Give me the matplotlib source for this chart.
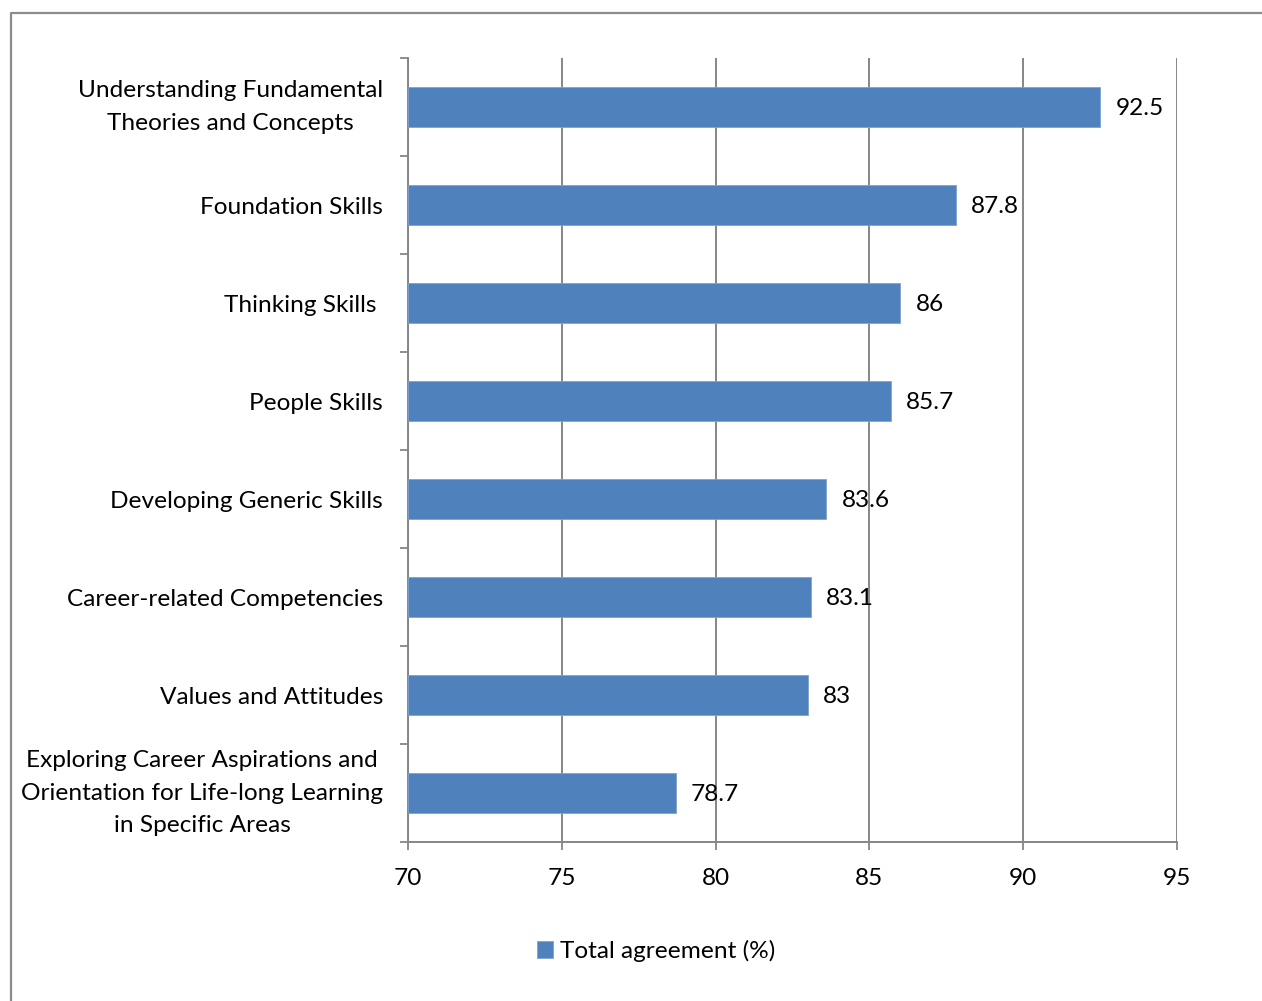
import numpy as np
import matplotlib.pyplot as plt
from matplotlib.lines import Line2D

plt.rcParams['font.family'] = ['Lato', 'DejaVu Sans']

categories = [
    "Understanding Fundamental\nTheories and Concepts",
    "Foundation Skills",
    "Thinking Skills ",
    "People Skills",
    "Developing Generic Skills",
    "Career-related Competencies",
    "Values and Attitudes",
    "Exploring Career Aspirations and\nOrientation for Life-long Learning\nin Specific Areas",
]
values = [92.5, 87.8, 86, 85.7, 83.6, 83.1, 83, 78.7]
value_labels = ["92.5", "87.8", "86", "85.7", "83.6", "83.1", "83", "78.7"]
xticks = [70, 75, 80, 85, 90, 95]
series_name = "Total agreement (%)"

W, H = 1262, 1001
fig = plt.figure(figsize=(W / 100, H / 100), dpi=100)
ax = fig.add_axes([408 / W, 1 - 842 / H, (1177 - 408) / W, (842 - 58) / H])

grid_col = "#868686"
bar_col = "#4F81BD"
fs = 17.6

y = np.arange(len(categories))
bars = ax.barh(y, [v - 70 for v in values], left=70, height=0.4, color=bar_col,
               edgecolor="#7fa3d0", linewidth=0.6, zorder=3, label=series_name)

for yi, v, lab in zip(y, values, value_labels):
    ax.annotate(lab, (v, yi), xytext=(11, -1), textcoords="offset points",
                va="center", ha="left", fontsize=fs, zorder=4)

ax.set_xlim(70, 95)
ax.set_ylim(len(categories) - 0.5, -0.5)
ax.set_xticks(xticks)
ax.set_xticklabels([str(t) for t in xticks], fontsize=fs)
ax.set_yticks(y)
ax.set_yticklabels(categories, fontsize=fs)
for lab in ax.get_yticklabels():
    lab.set_multialignment("center")
    lab.set_linespacing(1.7)
    if "\n" in lab.get_text():
        lab.set_verticalalignment("center")
ax.set_yticks(np.arange(-0.5, len(categories), 1.0), minor=True)
ax.tick_params(axis="y", which="major", length=0, pad=18)
ax.tick_params(axis="y", which="minor", length=6, width=1.3, color=grid_col, direction="out")
ax.tick_params(axis="x", length=6, width=1.3, color=grid_col, direction="out", pad=12.5)

ax.grid(axis="x", color=grid_col, linewidth=1.4, zorder=0)
ax.set_axisbelow(True)
for side in ["top", "right"]:
    ax.spines[side].set_visible(False)
for side in ["left", "bottom"]:
    ax.spines[side].set_color(grid_col)
    ax.spines[side].set_linewidth(1.4)

leg = fig.legend(handles=[bars], labels=[series_name], loc="center",
                 bbox_to_anchor=(656 / W, 1 - 951 / H), frameon=False, fontsize=fs,
                 handlelength=0.65, handleheight=0.65, handletextpad=0.3)

# outer chart frame
fx = 11 / W
fy = 1 - 13 / H
fig.add_artist(Line2D([fx, fx, 1.0], [0.0, fy, fy], transform=fig.transFigure,
                      color="#8c8c8c", linewidth=1.6))

fig.savefig("out.png", dpi=100)
